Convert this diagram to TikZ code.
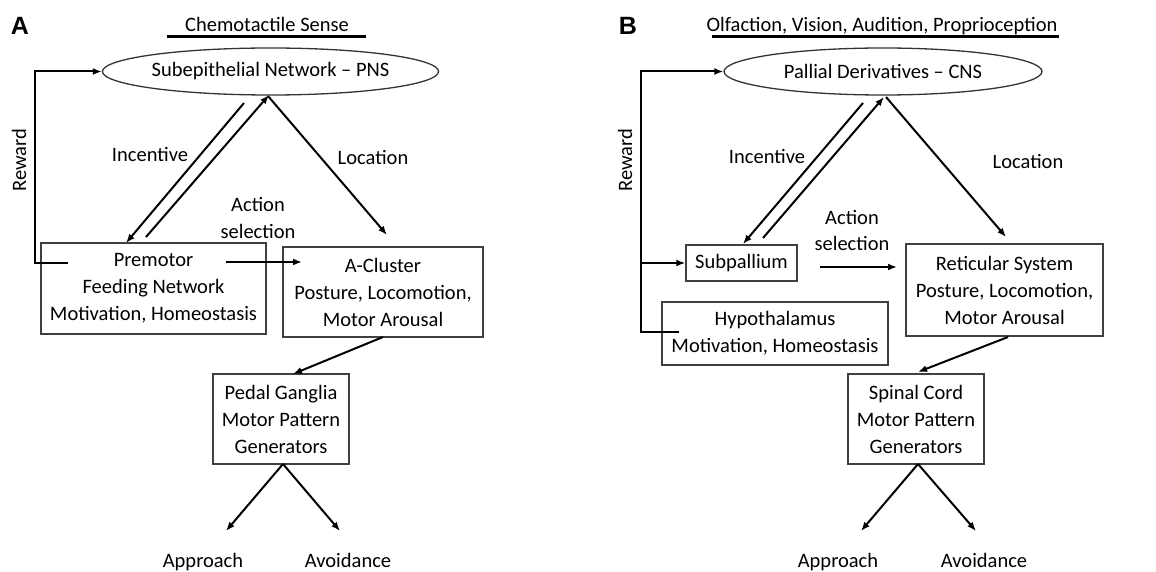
\documentclass[tikz,border=0pt]{standalone}
\usepackage{fontspec}
\setmainfont{Carlito}
\newfontfamily\labfont{Liberation Sans}
\usetikzlibrary{arrows.meta,shapes.geometric}
\begin{document}
\begin{tikzpicture}[x=1pt,y=-1pt,
  txt/.style={font=\fontsize{20.5}{27}\selectfont, align=center, inner sep=0pt},
  lab/.style={txt, anchor=base},
  boxnode/.style={txt, draw=black!75, line width=1.3pt, minimum width=#1},
  ell/.style={txt, draw=black!80, line width=1.3pt, ellipse, inner sep=0pt},
  conn/.style={line width=2pt, -{Latex[length=9pt,width=7pt]}},
  panlab/.style={font=\labfont\bfseries\fontsize{25}{28}\selectfont, inner sep=0pt, anchor=base},
]
\useasboundingbox (0,0) rectangle (1156,572);

% ================= Panel A =================
\node[panlab] (labA) at (20,35) {A};
\node[lab] (titA) at (267,32) {Chemotactile Sense};
\coordinate (ulA1) at (167,37); \coordinate (ulA2) at (366,37);
\draw[line width=3pt] (ulA1) -- (ulA2);

\node[ell, minimum width=315pt, minimum height=47pt] (pns) at (270.5,71.5) {Subepithelial Network -- PNS};

\node[boxnode=225pt, minimum height=91pt] (prem) at (153.5,288.5) {Premotor\\Feeding Network\\Motivation, Homeostasis};
\node[boxnode=200pt, minimum height=90pt] (acl) at (383,292) {A-Cluster\\Posture, Locomotion,\\Motor Arousal};
\node[boxnode=136pt, minimum height=90pt] (ped) at (281,419) {Pedal Ganglia\\Motor Pattern\\Generators};

\node[txt, rotate=90] (rewA) at (19,160) {Reward};
\node[lab] (incA) at (150,162) {Incentive};
\node[lab] (locA) at (373,165) {Location};
\node[lab] (actA) at (258,238) {Action\\selection};
\node[lab] (appA) at (203,567) {Approach};
\node[lab] (avoA) at (348,567) {Avoidance};

% reward loop
\coordinate (rA1) at (68,263);
\coordinate (rA2) at (35,263);
\coordinate (rA3) at (35,71.5);
\draw[conn] (rA1) -- (rA2) -- (rA3) -- (pns.west);

% incentive pair
\coordinate (iA1) at (244,103); \coordinate (iA2) at (126,243);
\coordinate (iA3) at (146,237); \coordinate (iA4) at (269,95);
\draw[conn] (iA1) -- (iA2);
\draw[conn] (iA3) -- (iA4);

% location
\coordinate (lA1) at (268,96); \coordinate (lA2) at (387,235);
\draw[conn] (lA1) -- (lA2);

% action selection
\coordinate (aA1) at (226,262); \coordinate (aA2) at (302,262);
\draw[conn] (aA1) -- (aA2);

% A-cluster -> pedal
\coordinate (pA1) at (383,337); \coordinate (pA2) at (293,374);
\draw[conn] (pA1) -- (pA2);

% branches
\coordinate (bA0) at (283,464);
\coordinate (bA1) at (226,531); \coordinate (bA2) at (340,531);
\draw[conn] (bA0) -- (bA1);
\draw[conn] (bA0) -- (bA2);

% ================= Panel B =================
\node[panlab] (labB) at (628,35) {B};
\node[lab] (titB) at (882,32) {Olfaction, Vision, Audition, Proprioception};
\coordinate (ulB1) at (712,37); \coordinate (ulB2) at (1059,37);
\draw[line width=3pt] (ulB1) -- (ulB2);

\node[ell, minimum width=318pt, minimum height=47pt] (cns) at (883,71.5) {Pallial Derivatives -- CNS};

\node[boxnode=111pt, minimum height=36pt] (sub) at (741.5,263) {Subpallium};
\node[boxnode=226pt, minimum height=63pt] (hyp) at (775,333.5) {Hypothalamus\\Motivation, Homeostasis};
\node[boxnode=197pt, minimum height=92pt] (ret) at (1004.5,290) {Reticular System\\Posture, Locomotion,\\Motor Arousal};
\node[boxnode=136pt, minimum height=90pt] (spc) at (916,419) {Spinal Cord\\Motor Pattern\\Generators};

\node[txt, rotate=90] (rewB) at (625,160) {Reward};
\node[lab] (incB) at (767,164) {Incentive};
\node[lab] (locB) at (1028,169) {Location};
\node[lab] (actB) at (852,251) {Action\\selection};
\node[lab] (appB) at (838,567) {Approach};
\node[lab] (avoB) at (984,567) {Avoidance};

% reward loop
\coordinate (rB1) at (679,332);
\coordinate (rB2) at (641,332);
\coordinate (rB3) at (641,71.5);
\coordinate (rBm) at (641,263);
\draw[conn] (rB1) -- (rB2) -- (rB3) -- (cns.west);
\draw[conn] (rBm) -- (sub.west);

% incentive pair
\coordinate (iB1) at (863,103); \coordinate (iB2) at (743,244);
\coordinate (iB3) at (763,238); \coordinate (iB4) at (884,97);
\draw[conn] (iB1) -- (iB2);
\draw[conn] (iB3) -- (iB4);

% location
\coordinate (lB1) at (886,97); \coordinate (lB2) at (1006,237);
\draw[conn] (lB1) -- (lB2);

% action selection
\coordinate (aB1) at (820,267); \coordinate (aB2) at (897,267);
\draw[conn] (aB1) -- (aB2);

% reticular -> spinal
\coordinate (pB1) at (1008,337); \coordinate (pB2) at (918,372);
\draw[conn] (pB1) -- (pB2);

% branches
\coordinate (bB0) at (918,464);
\coordinate (bB1) at (861,531); \coordinate (bB2) at (976,531);
\draw[conn] (bB0) -- (bB1);
\draw[conn] (bB0) -- (bB2);
\end{tikzpicture}
\end{document}
